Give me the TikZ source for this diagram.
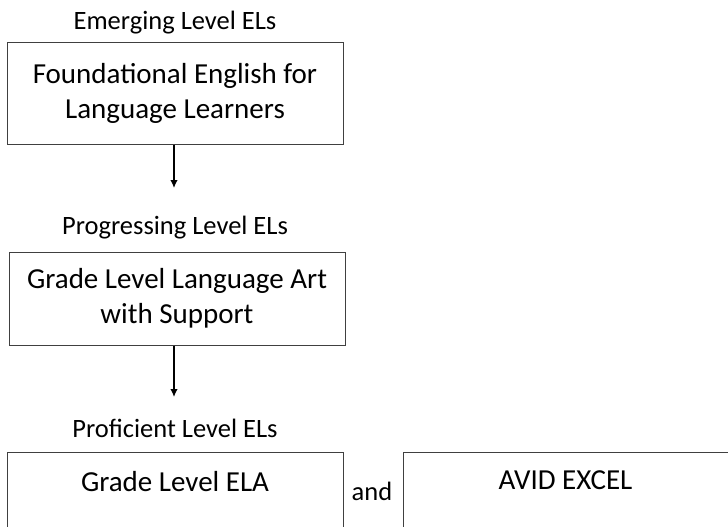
\documentclass[tikz,border=0pt]{standalone}
\usepackage{fontspec}
\setmainfont{Carlito}
\usetikzlibrary{arrows.meta,positioning}

\begin{document}
\begin{tikzpicture}[x=1pt, y=-1pt, >=Latex]
  \tikzset{
    flow/.style={-{Latex[length=8pt, width=7.5pt]}, line width=1.5pt},
    course/.style={draw=black!75, line width=1pt, inner sep=0pt, align=center,
      font=\fontsize{29}{35}\selectfont},
    level/.style={font=\fontsize{26.5}{30}\selectfont, inner sep=0pt, anchor=base}
  }
  \clip (0,0) rectangle (728,527);

  % Level labels
  \node[level] (emerging)    at (175,30)  {Emerging Level ELs};
  \node[level] (progressing) at (175,234) {Progressing Level ELs};
  \node[level] (proficient)  at (175,437) {Proficient Level ELs};

  % Course boxes
  \node[course, minimum width=336pt, minimum height=101pt] (foundational) at (175,93.5)
    {Foundational English for\\Language Learners};
  \node[course, minimum width=336pt, minimum height=93pt] (gradelevel) at (177,298.5)
    {Grade Level Language Art\\with Support};
  \node[course, anchor=north, minimum width=336pt, text height=39pt, text depth=57pt] (ela) at (175,452)
    {Grade Level ELA};
  \node[course, anchor=north west, minimum width=336pt, text height=37pt, text depth=59pt] (avid) at (403,452)
    {\hspace*{-12pt}AVID EXCEL};
  \node[level] (and) at (372,500) {and};

  % Flow arrows
  \coordinate (tip1) at (174,188);
  \coordinate (tip2) at (174,397);
  \draw[flow] (foundational.south -| tip1) -- (tip1);
  \draw[flow] (gradelevel.south -| tip2) -- (tip2);

\end{tikzpicture}
\end{document}
